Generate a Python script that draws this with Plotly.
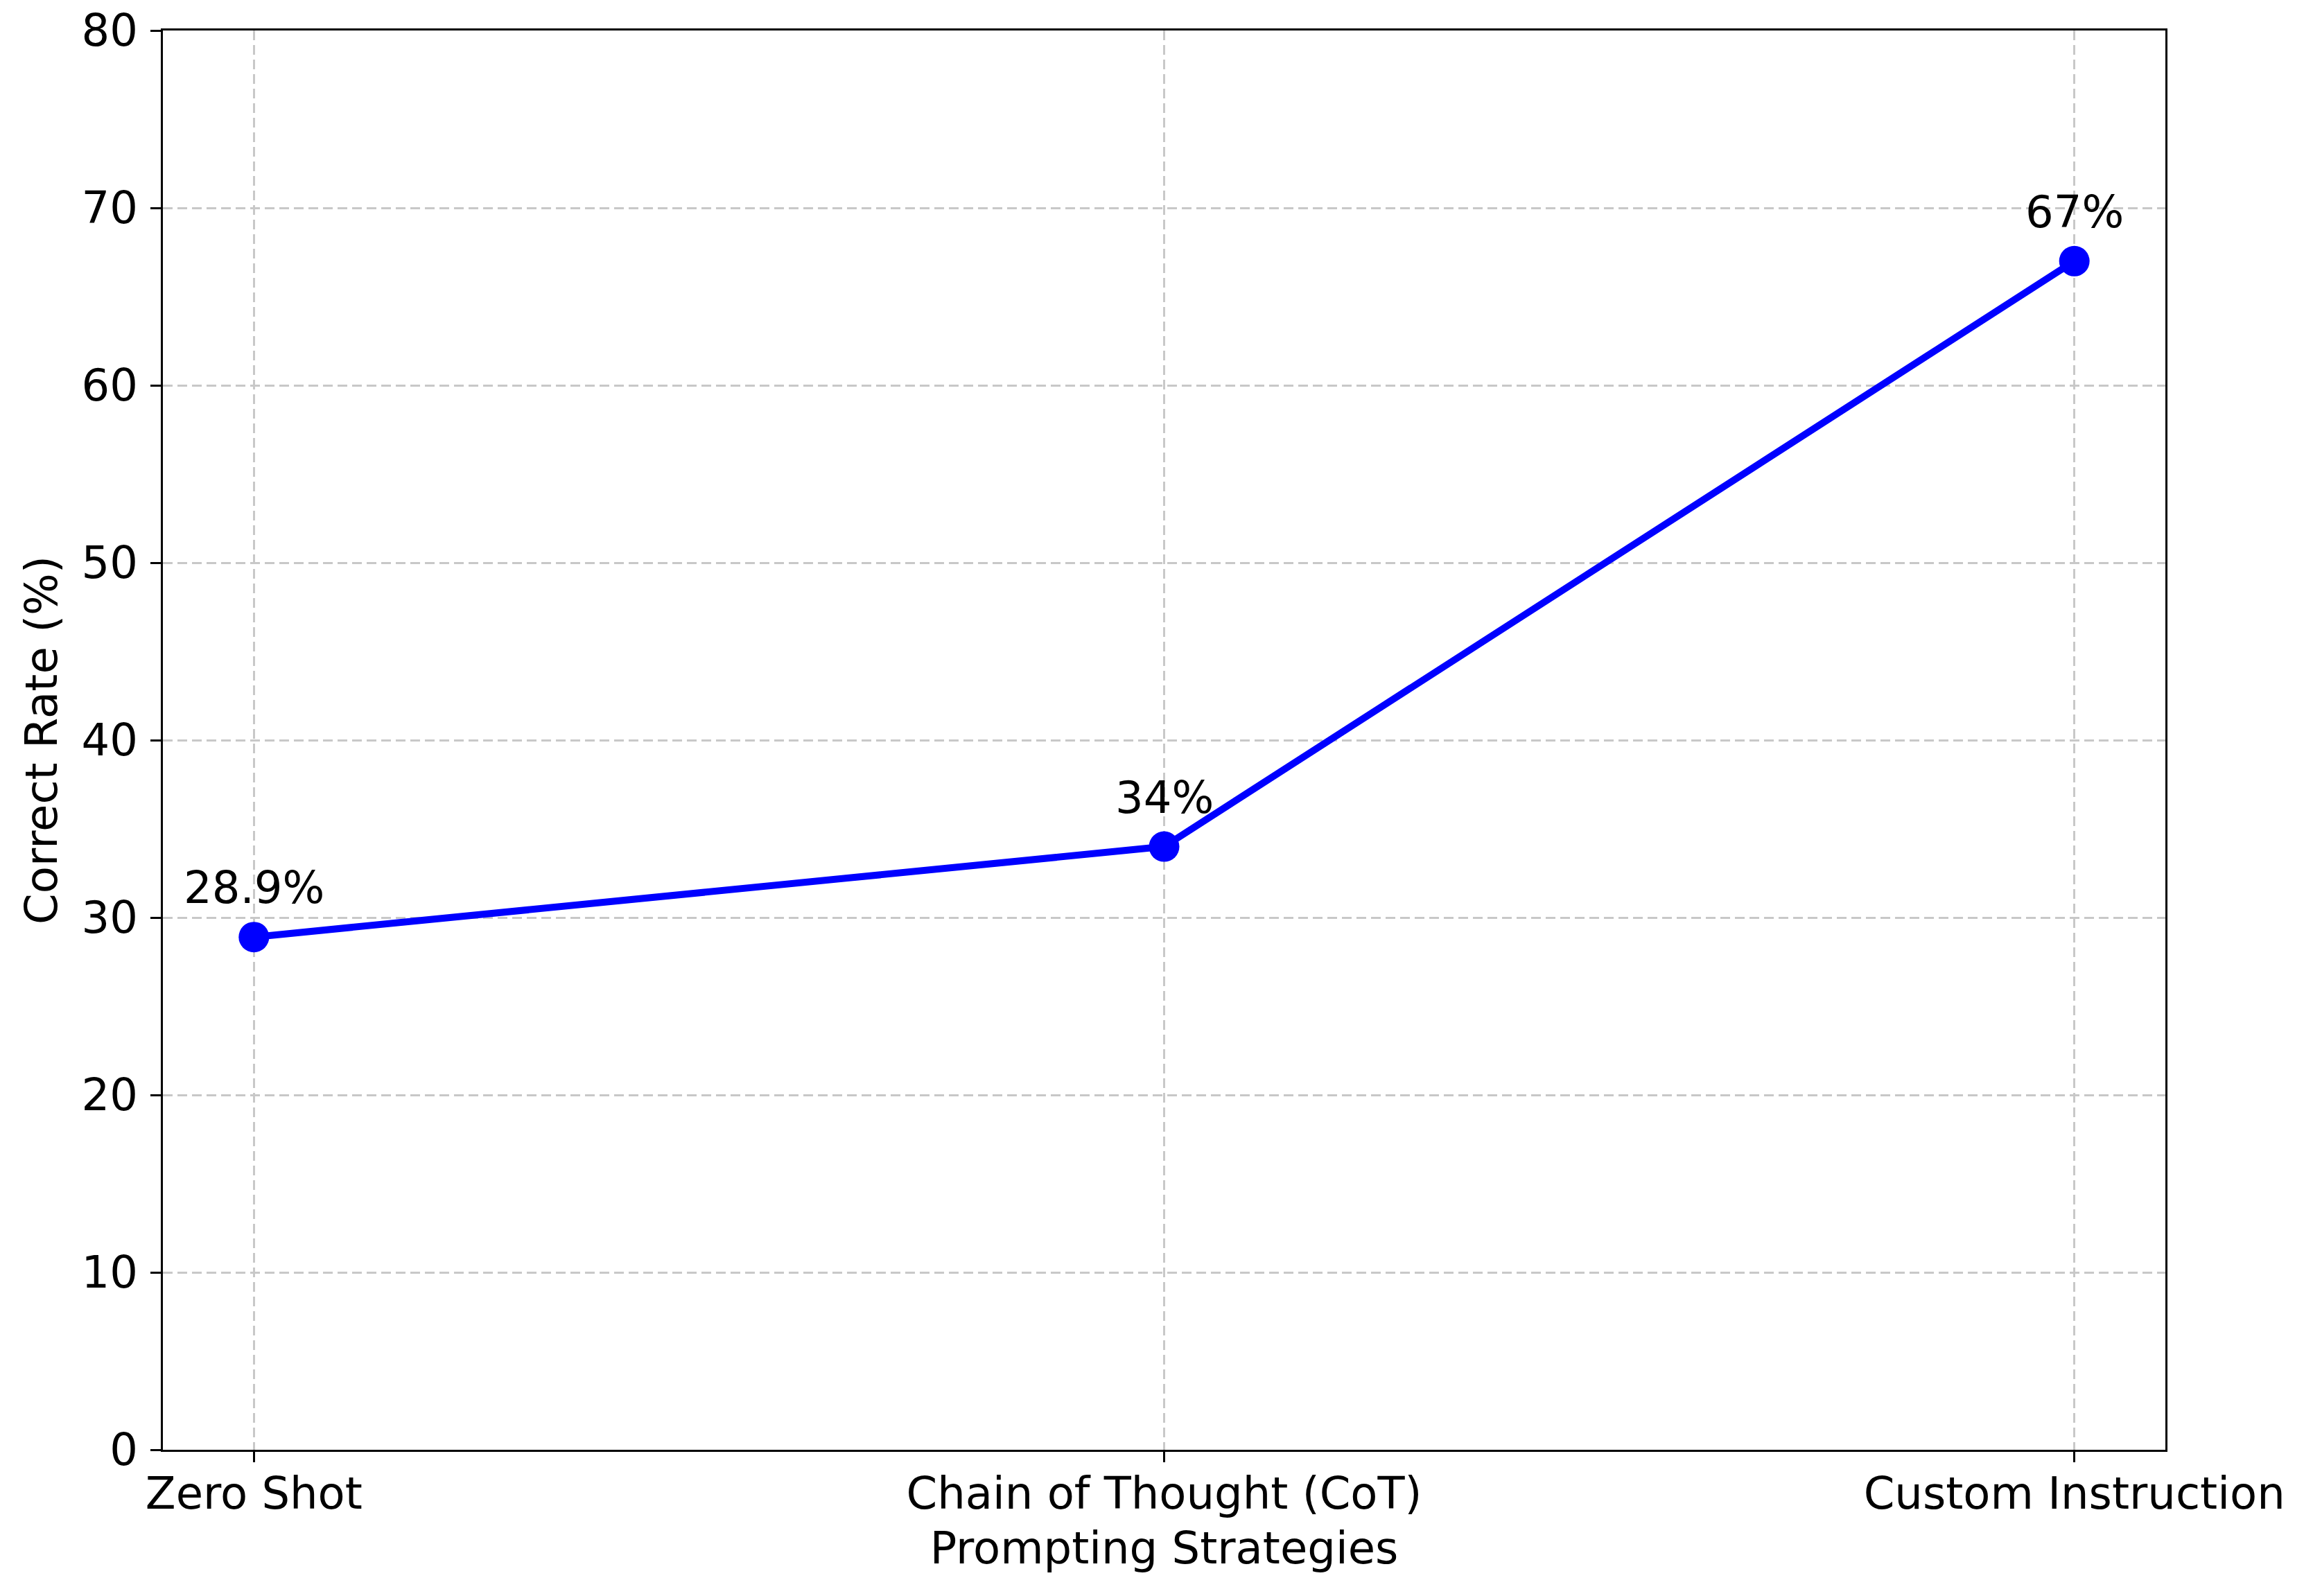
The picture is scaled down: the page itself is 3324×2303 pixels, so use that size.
import plotly.graph_objects as go

categories = ["Zero Shot", "Chain of Thought (CoT)", "Custom Instruction"]
correct_rate = [28.9, 34, 67]
point_labels = ["28.9%", "34%", "67%"]
y_ticks = [0, 10, 20, 30, 40, 50, 60, 70, 80]

W, H = 3324, 2303
FONT = "DejaVu Sans"
FS = 64

fig = go.Figure()
fig.add_trace(go.Scatter(
    x=categories, y=correct_rate, mode="lines+markers",
    line=dict(color="#0000ff", width=10),
    marker=dict(color="#0000ff", size=44),
    showlegend=False, cliponaxis=False,
))

for c, v, t in zip(categories, correct_rate, point_labels):
    fig.add_annotation(x=c, y=v, text=t, showarrow=False,
                       yanchor="bottom", xanchor="center", yshift=32,
                       font=dict(family=FONT, size=FS, color="black"))

axis_common = dict(
    showline=True, mirror=True, linecolor="black", linewidth=3.3,
    ticks="outside", ticklen=15, tickwidth=3.3, tickcolor="black",
    showgrid=True, gridcolor="#c8c8c8", gridwidth=2.5, griddash="14px,7px",
    zeroline=False, ticklabeloverflow="allow", automargin=False,
    tickfont=dict(family=FONT, size=FS, color="black"),
)

fig.update_xaxes(
    type="category", range=[-0.1, 2.1],
    title=dict(text="Prompting Strategies", font=dict(family=FONT, size=FS, color="black"), standoff=21),
    ticklabelstandoff=-10,
    **axis_common,
)
fig.update_yaxes(
    range=[0, 80], tickvals=y_ticks, ticktext=[str(v) for v in y_ticks],
    title=dict(text="Correct Rate (%)", font=dict(family=FONT, size=FS, color="black"), standoff=15),
    ticklabelstandoff=5,
    **axis_common,
)

fig.update_layout(
    width=W, height=H,
    margin=dict(l=227, r=208, t=36, b=219, pad=0),
    paper_bgcolor="white", plot_bgcolor="white",
    font=dict(family=FONT, size=FS, color="black"),
)

fig.write_html("out.html")
